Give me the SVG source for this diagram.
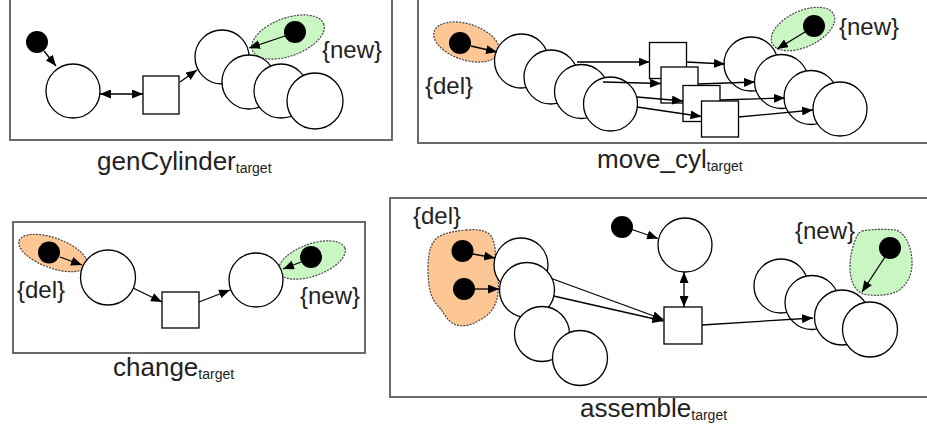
<svg xmlns="http://www.w3.org/2000/svg" width="927" height="430" viewBox="0 0 927 430">
<defs>
<style>
.frame{fill:none;stroke:#6a6a6a;stroke-width:2}
.pl{fill:#fff;stroke:#000;stroke-width:1.3}
.tr{fill:#fff;stroke:#000;stroke-width:1.3}
.tok{fill:#000}
.del{fill:#fcc795;stroke:#444;stroke-width:1.2;stroke-dasharray:2 1.2}
.new{fill:#caf6c4;stroke:#444;stroke-width:1.2;stroke-dasharray:2 1.2}
.ar{fill:none;stroke:#000;stroke-width:1.3;marker-end:url(#ah)}
.dar{fill:none;stroke:#000;stroke-width:1.3;marker-end:url(#ah);marker-start:url(#ah)}
.tag{font-family:"Liberation Sans",Arial,sans-serif;font-size:24px;fill:#222}
.lbl{font-family:"Liberation Sans",Arial,sans-serif;font-size:26px;fill:#222}
.sub{font-size:14px}
</style>
<marker id="ah" viewBox="0 0 11 9" refX="11" refY="4.5" markerWidth="11" markerHeight="9" markerUnits="userSpaceOnUse" orient="auto-start-reverse"><path d="M0,0 L11,4.5 L0,9 z" fill="#000"/></marker>
</defs>
<rect width="927" height="430" fill="#fff"/>
<g id="frames">
<rect class="frame" x="10" y="-5" width="382" height="145"/>
<rect class="frame" x="418" y="-5" width="520" height="148"/>
<rect class="frame" x="13" y="222" width="352" height="131"/>
<rect class="frame" x="390" y="198" width="548" height="199"/>
</g>
<!-- Panel 1: genCylinder -->
<g id="p1-new"><ellipse class="new" cx="288" cy="37" rx="38" ry="19" transform="rotate(-20 288 37)"/><text class="tag" x="322" y="58">{new}</text></g>
<g id="p1-tok0"><circle class="tok" cx="37" cy="42" r="11"/></g>
<g id="p1-p0"><circle class="pl" cx="73" cy="91" r="27"/></g>
<g id="p1-t0"><rect class="tr" x="143" y="76" width="36" height="38"/></g>
<g id="p1-pa"><circle class="pl" cx="222" cy="57" r="27"/></g>
<g id="p1-pb"><circle class="pl" cx="249" cy="82" r="27"/></g>
<g id="p1-pc"><circle class="pl" cx="281" cy="91" r="27"/></g>
<g id="p1-pd"><circle class="pl" cx="315" cy="101" r="28"/></g>
<g id="p1-tok1"><circle class="tok" cx="295" cy="32" r="11"/></g>
<g id="p1-label"><text class="lbl" x="97" y="170">genCylinder<tspan class="sub" dy="3">target</tspan></text></g>
<!-- Panel 2: move_cyl -->
<g id="p2-del"><ellipse class="del" cx="466.5" cy="42" rx="34" ry="18" transform="rotate(18 466.5 42)"/><text class="tag" x="425" y="94">{del}</text></g>
<g id="p2-new"><ellipse class="new" cx="803" cy="29" rx="34" ry="18" transform="rotate(-25 803 29)"/><text class="tag" x="839" y="35">{new}</text></g>
<g id="p2-tok0"><circle class="tok" cx="460" cy="43" r="11"/></g>
<g id="p2-c1"><circle class="pl" cx="521.5" cy="61" r="27"/></g>
<g id="p2-c2"><circle class="pl" cx="551" cy="77" r="27"/></g>
<g id="p2-c3"><circle class="pl" cx="581.5" cy="91.5" r="27"/></g>
<g id="p2-c4"><circle class="pl" cx="610.5" cy="104" r="27"/></g>
<g id="p2-s1"><rect class="tr" x="649.5" y="42.5" width="37" height="36"/></g>
<g id="p2-s2"><rect class="tr" x="661" y="67" width="37" height="36"/></g>
<g id="p2-s3"><rect class="tr" x="683" y="85.5" width="37" height="36"/></g>
<g id="p2-s4"><rect class="tr" x="701.5" y="101" width="37" height="36"/></g>
<g id="p2-r1"><circle class="pl" cx="751" cy="64" r="27"/></g>
<g id="p2-r2"><circle class="pl" cx="781.5" cy="81.5" r="27"/></g>
<g id="p2-r3"><circle class="pl" cx="811" cy="97.5" r="27"/></g>
<g id="p2-r4"><circle class="pl" cx="840" cy="109" r="27"/></g>
<g id="p2-tok1"><circle class="tok" cx="814" cy="26" r="11"/></g>
<g id="p2-label"><text class="lbl" x="597" y="168">move_cyl<tspan class="sub" dy="3">target</tspan></text></g>
<!-- Panel 3: change -->
<g id="p3-del"><ellipse class="del" cx="53" cy="253" rx="36" ry="15" transform="rotate(20 53 253)"/><text class="tag" x="17" y="298">{del}</text></g>
<g id="p3-new"><ellipse class="new" cx="312" cy="260" rx="35" ry="16" transform="rotate(-20 312 260)"/><text class="tag" x="300" y="304">{new}</text></g>
<g id="p3-tok0"><circle class="tok" cx="49" cy="252.5" r="11"/></g>
<g id="p3-pl"><circle class="pl" cx="108" cy="277.5" r="27.5"/></g>
<g id="p3-t"><rect class="tr" x="162" y="292" width="37" height="36"/></g>
<g id="p3-pr"><circle class="pl" cx="256" cy="280" r="27"/></g>
<g id="p3-tok1"><circle class="tok" cx="311" cy="257" r="11"/></g>
<g id="p3-label"><text class="lbl" x="113" y="376">change<tspan class="sub" dy="3">target</tspan></text></g>
<!-- Panel 4: assemble -->
<g id="p4-del"><path class="del" d="M466,230 C478,229 490,230 493,240 C497,250 494,256 496,266 C499,278 499,290 497,299 C494,310 488,316 478,321 C470,326 460,328 452,323 C445,318 444,312 438,306 C430,298 428,285 428,268 C428,250 432,240 440,236 C448,232 456,231 466,230 Z"/><text class="tag" x="413" y="224">{del}</text></g>
<g id="p4-new"><path class="new" d="M862,231 C872,229 886,229 896,230 C905,233 911,245 912,260 C913,275 906,287 896,292 C886,296 872,296 863,294 C854,290 850,280 850,267 C850,255 853,245 856,238 C858,234 859,232 862,231 Z"/><text class="tag" x="795" y="239">{new}</text></g>
<g id="p4-tok1"><circle class="tok" cx="462.5" cy="251" r="11"/></g>
<g id="p4-tok2"><circle class="tok" cx="464" cy="289" r="11"/></g>
<g id="p4-l1"><circle class="pl" cx="521" cy="265" r="27"/></g>
<g id="p4-l2"><circle class="pl" cx="527" cy="290" r="27.5"/></g>
<g id="p4-l3"><circle class="pl" cx="542" cy="334" r="27.5"/></g>
<g id="p4-l4"><circle class="pl" cx="580" cy="358" r="27.5"/></g>
<g id="p4-tok3"><circle class="tok" cx="622" cy="227" r="11"/></g>
<g id="p4-top"><circle class="pl" cx="685" cy="245" r="27"/></g>
<g id="p4-t"><rect class="tr" x="664" y="307" width="38" height="37"/></g>
<g id="p4-r1"><circle class="pl" cx="781" cy="286" r="27"/></g>
<g id="p4-r2"><circle class="pl" cx="812" cy="302.5" r="27"/></g>
<g id="p4-r3"><circle class="pl" cx="842" cy="317.5" r="27.5"/></g>
<g id="p4-r4"><circle class="pl" cx="870" cy="329.5" r="27.5"/></g>
<g id="p4-tok4"><circle class="tok" cx="890" cy="248" r="11"/></g>
<g id="p4-label"><text class="lbl" x="580" y="417">assemble<tspan class="sub" dy="3">target</tspan></text></g>
<g id="connectors">
<line class="ar" x1="44" y1="51" x2="56" y2="66"/>
<line class="dar" x1="100" y1="94" x2="143" y2="94"/>
<line class="ar" x1="180" y1="82" x2="197" y2="70"/>
<line class="ar" x1="285" y1="36" x2="249" y2="48"/>
<line class="ar" x1="471" y1="46" x2="497" y2="52"/>
<line class="ar" x1="805" y1="32" x2="777" y2="49"/>
<line class="ar" x1="577" y1="62" x2="649.5" y2="62"/>
<line class="ar" x1="686.5" y1="62" x2="725" y2="64"/>
<line class="ar" x1="603" y1="82" x2="661" y2="83.5"/>
<line class="ar" x1="698" y1="84" x2="755" y2="82"/>
<line class="ar" x1="637" y1="97" x2="683" y2="101"/>
<line class="ar" x1="720" y1="100" x2="785" y2="98"/>
<line class="ar" x1="637" y1="107" x2="701.5" y2="116.5"/>
<line class="ar" x1="738.5" y1="117" x2="813" y2="110"/>
<line class="ar" x1="60" y1="257" x2="82" y2="265"/>
<line class="ar" x1="133" y1="288" x2="162" y2="302"/>
<line class="ar" x1="199" y1="302" x2="230" y2="290"/>
<line class="ar" x1="301" y1="262" x2="283" y2="269"/>
<line class="ar" x1="473" y1="254" x2="495" y2="258"/>
<line class="ar" x1="475" y1="289" x2="499" y2="289"/>
<line class="ar" x1="632" y1="229.5" x2="658" y2="238.5"/>
<line class="dar" x1="684" y1="272" x2="684" y2="307"/>
<line class="ar" x1="551.5" y1="278.5" x2="663.5" y2="319.5"/>
<line class="ar" x1="553.5" y1="296" x2="663.5" y2="321"/>
<line class="ar" x1="702" y1="325" x2="813" y2="318"/>
<line class="ar" x1="885" y1="257" x2="862" y2="292"/>
</g>
</svg>
